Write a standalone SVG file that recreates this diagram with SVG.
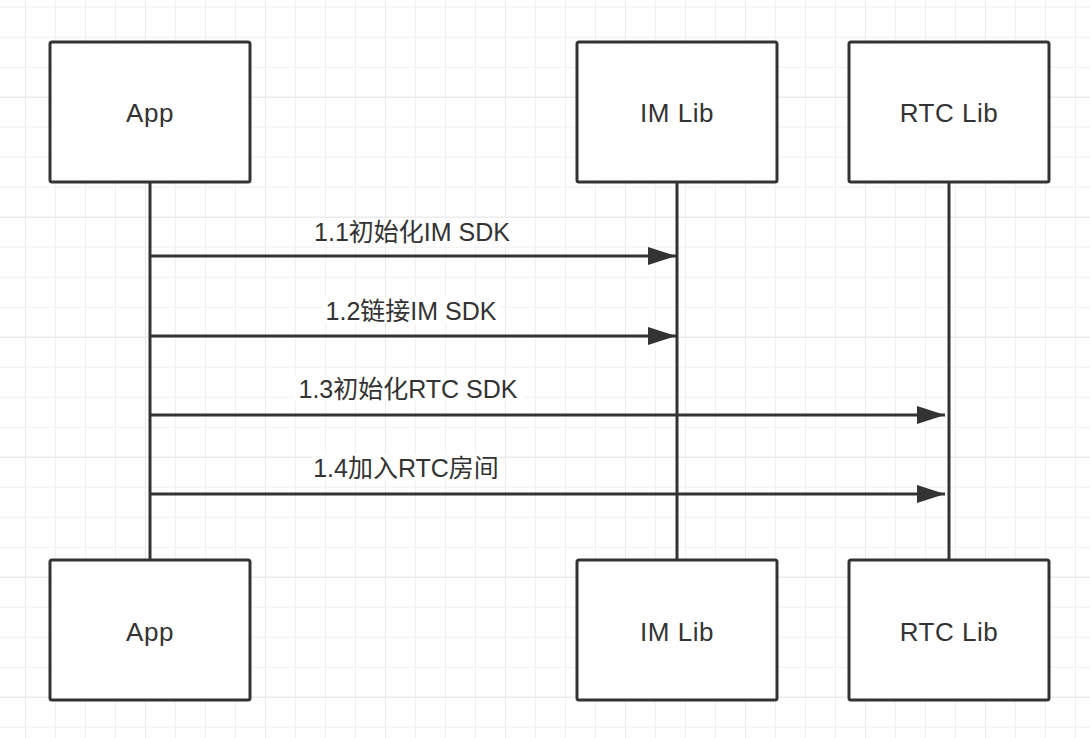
<svg xmlns="http://www.w3.org/2000/svg" width="1090" height="738" viewBox="0 0 1090 738">
<style>
.box{fill:#fff;stroke:#333;stroke-width:3}
.life{stroke:#333;stroke-width:3;fill:none}
.msg{stroke:#333;stroke-width:3;fill:none;marker-end:url(#ah)}
.nt{font-family:"Liberation Sans","Noto Sans CJK SC",sans-serif;font-size:26px;fill:#333;text-anchor:middle;letter-spacing:0.5px}
.lt{font-family:"Liberation Sans","Noto Sans CJK SC",sans-serif;font-size:25px;fill:#333;text-anchor:middle}
.lbg{fill:#fff}
</style>
<defs>
<pattern id="gmin" x="25" y="6.7" width="30" height="30" patternUnits="userSpaceOnUse">
<path d="M0 0H30M0 0V30" stroke="#f0f0f0" stroke-width="2" fill="none"/>
</pattern>
<pattern id="gmaj" x="25" y="96.7" width="120" height="120" patternUnits="userSpaceOnUse">
<path d="M0 0H120M0 0V120" stroke="#e8e8e8" stroke-width="2" fill="none"/>
</pattern>
<marker id="ah" markerWidth="28" markerHeight="18" refX="28" refY="9" orient="auto" markerUnits="userSpaceOnUse">
<path d="M0 0L28 9L0 18Z" fill="#333"/>
</marker>
</defs>
<rect width="1090" height="738" fill="#fff"/>
<rect width="1090" height="738" fill="url(#gmin)"/>
<rect width="1090" height="738" fill="url(#gmaj)"/>
<g id="lifelines">
<line class="life" x1="150" y1="182" x2="150" y2="560"/>
<line class="life" x1="677" y1="182" x2="677" y2="560"/>
<line class="life" x1="949" y1="182" x2="949" y2="560"/>
</g>
<g id="connectors">
<line class="msg" x1="150" y1="256" x2="676" y2="256"/>
<line class="msg" x1="150" y1="336" x2="676" y2="336"/>
<line class="msg" x1="150" y1="415" x2="945" y2="415"/>
<line class="msg" x1="150" y1="494" x2="945" y2="494"/>
<rect class="lbg" x="312" y="218" width="199" height="26"/>
<text class="lt" x="412" y="241">1.1初始化IM SDK</text>
<rect class="lbg" x="322" y="297" width="178" height="26"/>
<text class="lt" x="411" y="320">1.2链接IM SDK</text>
<rect class="lbg" x="294" y="375" width="229" height="26"/>
<text class="lt" x="408" y="398">1.3初始化RTC SDK</text>
<rect class="lbg" x="312" y="454" width="188" height="26"/>
<text class="lt" x="406" y="477">1.4加入RTC房间</text>
</g>
<g id="app-top"><rect class="box" x="50" y="42" width="200" height="140" rx="2"/><text class="nt" x="150" y="122">App</text></g>
<g id="im-top"><rect class="box" x="577" y="42" width="200" height="140" rx="2"/><text class="nt" x="677" y="122">IM Lib</text></g>
<g id="rtc-top"><rect class="box" x="849" y="42" width="200" height="140" rx="2"/><text class="nt" x="949" y="122">RTC Lib</text></g>
<g id="app-bottom"><rect class="box" x="50" y="560" width="200" height="140" rx="2"/><text class="nt" x="150" y="641">App</text></g>
<g id="im-bottom"><rect class="box" x="577" y="560" width="200" height="140" rx="2"/><text class="nt" x="677" y="641">IM Lib</text></g>
<g id="rtc-bottom"><rect class="box" x="849" y="560" width="200" height="140" rx="2"/><text class="nt" x="949" y="641">RTC Lib</text></g>
</svg>
